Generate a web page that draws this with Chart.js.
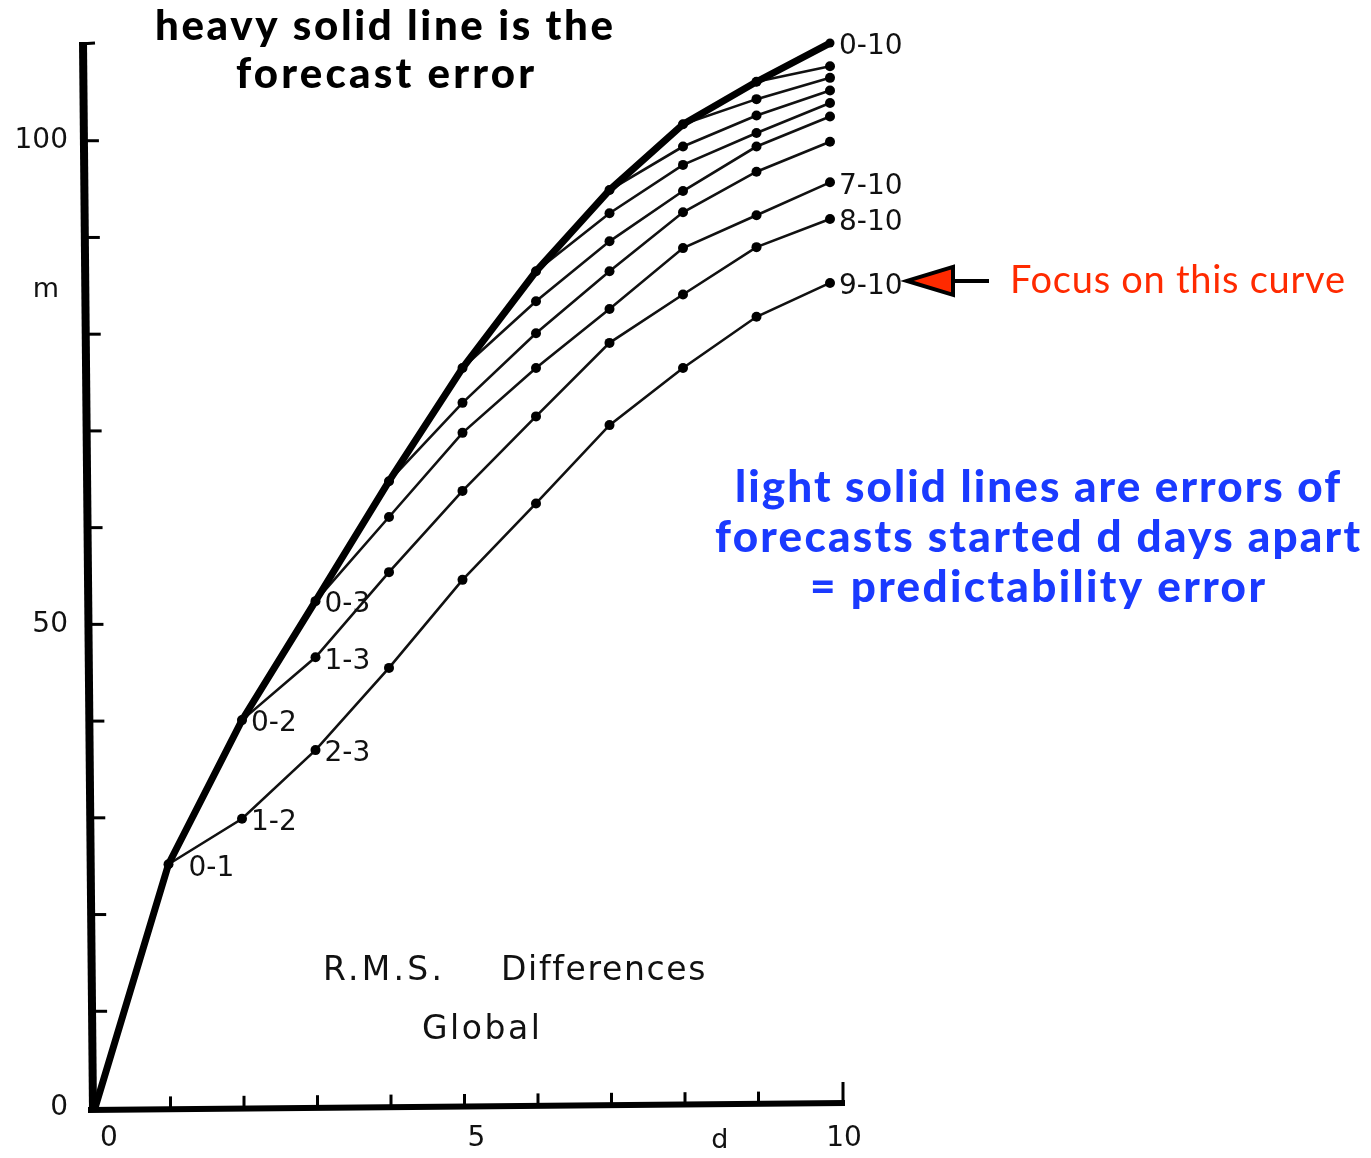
<!DOCTYPE html>
<html>
<head>
<meta charset="utf-8"/>
<title>R.M.S. Differences - Global</title>
<script src="https://cdn.jsdelivr.net/npm/chart.js@4.4.1/dist/chart.umd.min.js"></script>
<style>
  html, body { margin: 0; padding: 0; background: #fff; }
  canvas { display: block; }
</style>
</head>
<body>
<canvas id="myChart" width="1371" height="1158"></canvas>
<script>
// forecast day d
const days = [0, 1, 2, 3, 4, 5, 6, 7, 8, 9, 10];
// heavy line: error of forecast 0-d (m)
const forecastError = [0, 25.2, 40.1, 52.4, 64.8, 76.5, 86.5, 94.9, 101.7, 106.1, 110.1];
// light lines: differences between forecasts started s days apart, from d = s to 10
const sep1 = [25.2, 29.9, 37.0, 45.5, 54.6, 62.5, 70.6, 76.5, 81.8, 85.3];
const sep2 = [40.1, 46.6, 55.4, 63.8, 71.5, 79.1, 84.1, 89.0, 91.9];
const sep3 = [52.4, 61.1, 69.8, 76.5, 82.6, 88.9, 92.3, 95.7];
const sep4 = [64.8, 72.9, 80.1, 86.5, 92.6, 96.8, 99.9];
const sep5 = [76.5, 83.4, 89.6, 94.8, 99.4, 102.5];
const sep6 = [86.5, 92.5, 97.5, 100.8, 103.9];
const sep7 = [94.9, 99.4, 102.6, 105.2];
const sep8 = [101.7, 104.3, 106.5];
const sep9 = [106.1, 107.7];
const separations = [sep1, sep2, sep3, sep4, sep5, sep6, sep7, sep8, sep9];

const yLabels = [0, 50, 100];
const xLabels = [0, 5, 10];

// curve labels: text, separation, day
const curveLabels = [
  ['0-1', 1, 1], ['1-2', 1, 2], ['2-3', 1, 3],
  ['0-2', 2, 2], ['1-3', 2, 3], ['0-3', 3, 3],
  ['0-10', 10, 10], ['7-10', 3, 10], ['8-10', 2, 10], ['9-10', 1, 10]
];

const INK = '#111';
const BLUE = '#1a3aff';
const RED = '#ff2a00';

function valueAt(sep, day) {
  if (sep === day) return forecastError[day];
  return separations[sep - 1][day - sep];
}

// draw text with letter spacing stretched so it spans a given width
function fitText(ctx, text, left, baseline, width, font, color) {
  ctx.font = font;
  ctx.letterSpacing = '0px';
  const w0 = ctx.measureText(text).width;
  const ls = (width - w0) / Math.max(1, text.length - 1);
  ctx.letterSpacing = ls.toFixed(2) + 'px';
  ctx.fillStyle = color;
  ctx.textAlign = 'left';
  ctx.textBaseline = 'alphabetic';
  ctx.fillText(text, left, baseline);
  ctx.letterSpacing = '0px';
}

const decor = {
  id: 'decor',
  beforeDatasetsDraw(chart) {
    const { ctx, chartArea: a, scales: { x, y } } = chart;
    const yTop = y.getPixelForValue(110);
    const yBot = y.getPixelForValue(0);
    ctx.save();
    ctx.strokeStyle = '#000';
    ctx.lineCap = 'butt';

    // y axis (slightly slanted like the scan)
    const axTop = a.left - 12, axBot = a.left - 2;
    ctx.lineWidth = 8;
    ctx.beginPath();
    ctx.moveTo(axTop, yTop - 2);
    ctx.lineTo(axBot, yBot + 4);
    ctx.stroke();
    ctx.lineWidth = 3;
    ctx.beginPath();
    ctx.moveTo(axTop - 3, yTop);
    ctx.lineTo(axTop + 12, yTop - 1);
    ctx.stroke();
    for (let v = 10; v <= 100; v += 10) {
      const py = y.getPixelForValue(v);
      const ax = axTop + (axBot - axTop) * (py - yTop) / (yBot - yTop);
      ctx.beginPath();
      ctx.moveTo(ax + 3, py);
      ctx.lineTo(ax + 15, py);
      ctx.stroke();
    }

    // x axis
    const xEnd = x.getPixelForValue(10) + 13;
    ctx.lineWidth = 6;
    ctx.beginPath();
    ctx.moveTo(a.left - 7, yBot + 2);
    ctx.lineTo(xEnd + 2, yBot - 5);
    ctx.stroke();
    ctx.lineWidth = 3;
    for (let d = 1; d <= 9; d++) {
      const px = x.getPixelForValue(d) + 2;
      const base = yBot + 2 - 6 * d / 10;
      ctx.beginPath();
      ctx.moveTo(px, base);
      ctx.lineTo(px, base - 13);
      ctx.stroke();
    }
    ctx.beginPath();
    ctx.moveTo(xEnd, yBot - 4);
    ctx.lineTo(xEnd, yBot - 26);
    ctx.stroke();
    ctx.restore();
  },
  afterDatasetsDraw(chart) {
    const { ctx, scales: { x, y } } = chart;
    ctx.save();

    // curve labels
    ctx.font = '28px "DejaVu Sans"';
    ctx.fillStyle = INK;
    ctx.textAlign = 'left';
    ctx.textBaseline = 'middle';
    curveLabels.forEach(([text, sep, day]) => {
      const px = x.getPixelForValue(day);
      const py = y.getPixelForValue(valueAt(sep, day));
      ctx.fillText(text, px + (text === '0-1' ? 20 : 9), py + 4);
    });

    // axis names
    ctx.font = '27px "DejaVu Sans"';
    ctx.textAlign = 'center';
    ctx.textBaseline = 'alphabetic';
    ctx.fillText('m', 46, y.getPixelForValue(84.5) + 6);
    ctx.fillText('d', x.getPixelForValue(8.5), y.getPixelForValue(0) + 40);

    // panel caption
    fitText(ctx, 'R.M.S.', 323, 980, 119, '33px "DejaVu Sans"', INK);
    fitText(ctx, 'Differences', 501, 980, 204, '33px "DejaVu Sans"', INK);
    fitText(ctx, 'Global', 422, 1039, 118, '33px "DejaVu Sans"', INK);

    // annotations
    const bold = (s) => `900 ${s}px Lato, "Open Sans", sans-serif`;
    fitText(ctx, 'heavy solid line is the', 155, 40, 458, bold(42), '#000');
    fitText(ctx, 'forecast error', 236, 88, 298, bold(42), '#000');
    fitText(ctx, 'light solid lines are errors of', 735, 502, 605, bold(44), BLUE);
    fitText(ctx, 'forecasts started d days apart', 715, 552, 645, bold(44), BLUE);
    fitText(ctx, '= predictability error', 810, 602, 455, bold(44), BLUE);
    fitText(ctx, 'Focus on this curve', 1010, 293, 335, '400 38px Lato, "Open Sans", sans-serif', RED);

    // arrow pointing at the 9-10 curve
    const px = x.getPixelForValue(10);
    const py = y.getPixelForValue(valueAt(1, 10)) - 2;
    const tip = px + 77, base = tip + 46;
    ctx.beginPath();
    ctx.moveTo(tip, py);
    ctx.lineTo(base, py - 14);
    ctx.lineTo(base, py + 14);
    ctx.closePath();
    ctx.fillStyle = RED;
    ctx.fill();
    ctx.lineWidth = 4;
    ctx.lineJoin = 'miter';
    ctx.strokeStyle = '#000';
    ctx.stroke();
    ctx.beginPath();
    ctx.moveTo(base, py);
    ctx.lineTo(base + 36, py);
    ctx.stroke();

    ctx.restore();
  }
};

const datasets = [{
  label: 'forecast error 0-d',
  data: days.map((d, i) => ({ x: d, y: forecastError[i] })),
  borderColor: '#000',
  borderWidth: 7,
  pointRadius: days.map(d => (d === 0 ? 0 : 4.5)),
  pointBackgroundColor: '#000',
  pointBorderWidth: 0,
  clip: false
}];
separations.forEach((vals, i) => {
  const s = i + 1;
  datasets.push({
    label: 'forecasts ' + s + ' days apart',
    data: vals.map((v, j) => ({ x: days[s + j], y: v })),
    borderColor: INK,
    borderWidth: 2.6,
    pointRadius: 5,
    pointBackgroundColor: '#000',
    pointBorderWidth: 0,
    clip: false
  });
});

Chart.defaults.font.family = '"DejaVu Sans", sans-serif';
Chart.defaults.color = INK;

const ctx = document.getElementById('myChart').getContext('2d');
const chart = new Chart(ctx, {
  type: 'line',
  data: { datasets },
  options: {
    responsive: false,
    animation: false,
    layout: { padding: { left: 0, right: 541, top: 44, bottom: 0 } },
    plugins: {
      legend: { display: false },
      tooltip: { enabled: false }
    },
    elements: { line: { tension: 0 } },
    scales: {
      x: {
        type: 'linear',
        min: 0,
        max: 10,
        afterFit(s) { s.height = 50; },
        grid: { display: false, drawTicks: false },
        border: { display: false },
        ticks: {
          stepSize: 5,
          autoSkip: false,
          maxRotation: 0,
          padding: 14,
          labelOffset: 14,
          font: { size: 28 },
          callback: v => (xLabels.includes(v) ? String(v) : '')
        }
      },
      y: {
        min: 0,
        max: 110,
        afterFit(s) { s.width = 95; },
        grid: { display: false, drawTicks: false },
        border: { display: false },
        ticks: {
          stepSize: 10,
          autoSkip: false,
          padding: 27,
          font: { size: 28 },
          callback: v => (yLabels.includes(v) ? String(v) : '')
        }
      }
    }
  },
  plugins: [decor]
});
</script>
</body>
</html>
